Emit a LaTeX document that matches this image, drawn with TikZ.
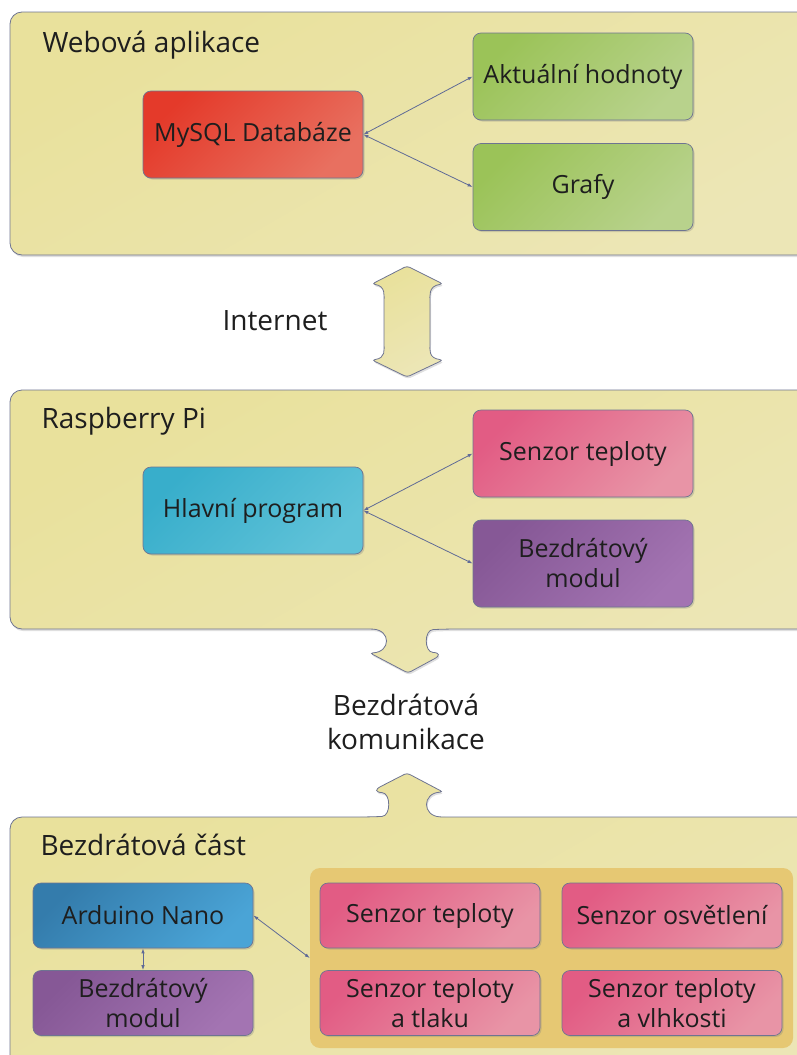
\documentclass[tikz,border=0pt]{standalone}
\usepackage{fontspec}
\setmainfont{Open Sans}
\usetikzlibrary{arrows.meta,shadows}

\definecolor{edge}{RGB}{110,116,145}
\definecolor{link}{RGB}{95,106,150}
\definecolor{txt}{RGB}{30,30,30}
\definecolor{panA}{RGB}{233,225,156}
\definecolor{panB}{RGB}{236,230,182}

\begin{document}
\begin{tikzpicture}
  [x=1pt,y=-1pt,
   every node/.style={font=\fontsize{25}{30}\selectfont,text=txt},
   panelbox/.style={draw=edge,line width=.8pt,top color=panA,bottom color=panB,shading angle=30,
     drop shadow={shadow xshift=1pt,shadow yshift=-2pt,opacity=.25}},
   box/.style={draw=edge,line width=.7pt,rounded corners=8pt,minimum width=220pt,minimum height=87pt,
     inner sep=0pt,align=center,
     drop shadow={shadow xshift=1.5pt,shadow yshift=-1.5pt,opacity=.3}},
   small/.style={box,minimum height=65pt},
   title/.style={anchor=base west,font=\fontsize{28}{34}\selectfont},
   label/.style={align=center,font=\fontsize{28}{34}\selectfont},
   red/.style={top color={rgb,255:red,228;green,58;blue,42},bottom color={rgb,255:red,232;green,112;blue,96},shading angle=45},
   green/.style={top color={rgb,255:red,155;green,195;blue,88},bottom color={rgb,255:red,184;green,210;blue,140},shading angle=45},
   cyan/.style={top color={rgb,255:red,56;green,174;blue,203},bottom color={rgb,255:red,95;green,194;blue,216},shading angle=45},
   pink/.style={top color={rgb,255:red,226;green,92;blue,132},bottom color={rgb,255:red,232;green,148;blue,166},shading angle=45},
   violet/.style={top color={rgb,255:red,134;green,88;blue,150},bottom color={rgb,255:red,163;green,116;blue,178},shading angle=45},
   blue/.style={top color={rgb,255:red,52;green,124;blue,172},bottom color={rgb,255:red,74;green,164;blue,214},shading angle=45},
   link/.style={draw=link,line width=.8pt,{Latex[length=5pt,width=3.5pt]}-{Latex[length=5pt,width=3.5pt]}}]
  \clip (0,0) rectangle (797,1055);

  % panels
  \draw[panelbox,rounded corners=12pt] (10,12) rectangle (840,255);
  \draw[panelbox,rounded corners=12pt] (10,390) -- (840,390) -- (840,629) -- (445,629)
    .. controls (424,630) and (424,652) .. (445,653) [rounded corners=3pt] -- (408,673) -- (370,653)
    .. controls (391,652) and (391,630) .. (370,629) [rounded corners=12pt] -- (10,629) -- cycle;
  \draw[panelbox,rounded corners=12pt] (10,1090) -- (10,817) -- (370,817)
    .. controls (391,816) and (391,793) .. (370,792) [rounded corners=3pt] -- (407,773) -- (443,792)
    .. controls (422,793) and (422,816) .. (443,817) [rounded corners=12pt] -- (840,817) -- (840,1090) -- cycle;
  \draw[panelbox,rounded corners=3pt] (407,266) -- (443,284)
    .. controls (428,286) and (430,296) .. (430,305) -- (430,340)
    .. controls (430,350) and (428,358) .. (443,360) -- (407,377) -- (372,360)
    .. controls (386,358) and (384,350) .. (384,340) -- (384,305)
    .. controls (384,296) and (386,286) .. (372,284) -- cycle;

  \node[title] (t0) at (39,52) {Webová aplikace};
  \node[title] (t1) at (38,428) {Raspberry Pi};
  \node[title] (t2) at (37,855) {Bezdrátová část};
  \node[label] (l0) at (275,321) {Internet};
  \node[label] (l1) at (406,722) {Bezdrátová\\komunikace};

  \node[box,red] (w0) at (253,134.5) {MySQL Databáze};
  \node[box,green] (w1) at (583,76.5) {Aktuální hodnoty};
  \node[box,green] (w2) at (583,187) {Grafy};

  \node[box,cyan] (r0) at (253,510.5) {Hlavní program};
  \node[box,pink] (r1) at (583,453.5) {Senzor teploty};
  \node[box,violet] (r2) at (583,563.5) {Bezdrátový\\modul};

  \node[fill={rgb,255:red,230;green,200;blue,115},rounded corners=10pt,minimum width=483pt,minimum height=180pt] (g) at (551.5,958) {};
  \node[small,blue] (b0) at (143,915.5) {Arduino Nano};
  \node[small,violet] (b1) at (143,1003) {Bezdrátový\\modul};
  \node[small,pink] (s0) at (430,915.5) {Senzor teploty};
  \node[small,pink] (s1) at (672,915.5) {Senzor osvětlení};
  \node[small,pink] (s2) at (430,1003) {Senzor teploty\\a tlaku};
  \node[small,pink] (s3) at (672,1003) {Senzor teploty\\a vlhkosti};

  \foreach \from/\to in {w0/w1,w0/w2,r0/r1,r0/r2,b0/g}
    \draw[link] (\from.east) -- (\to.west);
  \draw[link] (b0) -- (b1);
\end{tikzpicture}
\end{document}
